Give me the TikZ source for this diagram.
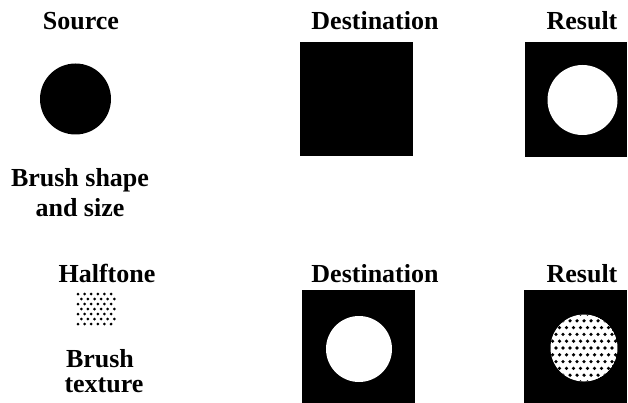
\documentclass[tikz,border=0pt]{standalone}
\usepackage{fontspec}
\setmainfont{Liberation Serif}
\begin{document}
\begin{tikzpicture}[x=1pt,y=-1pt,
  lbl/.style={anchor=base,inner sep=0pt,font=\fontsize{26}{30}\selectfont\bfseries},
  blk/.style={fill=black,draw=none,inner sep=0pt}]
\useasboundingbox (0,0) rectangle (628,403);
% top row
\node[lbl] (src) at (81,30) {Source};
\node[lbl] (dst1) at (375,30) {Destination};
\node[lbl] (res1) at (582,30) {Result};
\fill (75.5,99) circle (35.5);
\node[blk,minimum width=113pt,minimum height=114pt] (dsq1) at (356.5,99) {};
\node[blk,minimum width=102pt,minimum height=115pt] (rsq1) at (576,99.5) {};
\fill[white] (582.5,100) circle (35);
\node[lbl] (bs1) at (80,186) {Brush shape};
\node[lbl] (bs2) at (80,216) {and size};
% bottom row
\node[lbl] (half) at (107,282) {Halftone};
\node[lbl] (dst2) at (375,282) {Destination};
\node[lbl] (res2) at (582,282) {Result};
\foreach \r in {0,...,6}{
  \foreach \c in {0,...,5}{
    \pgfmathsetmacro{\xx}{78+6.6*\c+3.3*mod(\r,2)}
    \pgfmathsetmacro{\yy}{294+5*\r}
    \fill (\xx,\yy) circle (1.5);
  }
}
\node[blk,minimum width=113pt,minimum height=113pt] (dsq2) at (358.5,346.5) {};
\fill[white] (359,349) circle (33);
\node[blk,minimum width=103pt,minimum height=113pt] (rsq2) at (575.5,346.5) {};
\begin{scope}
  \clip (584,348) circle (33.5);
  \fill[white] (584,348) circle (33.5);
  \foreach \r in {0,...,12}{
    \foreach \c in {0,...,13}{
      \pgfmathsetmacro{\xx}{584+7*(\c-7)+3.5*mod(\r,2)}
      \pgfmathsetmacro{\yy}{348+6.8*(\r-6)}
      \fill (\xx,\yy) circle (1.8);
    }
  }
\end{scope}
\node[lbl] (bt1) at (100,367) {Brush};
\node[lbl] (bt2) at (104,392) {texture};
\end{tikzpicture}
\end{document}
